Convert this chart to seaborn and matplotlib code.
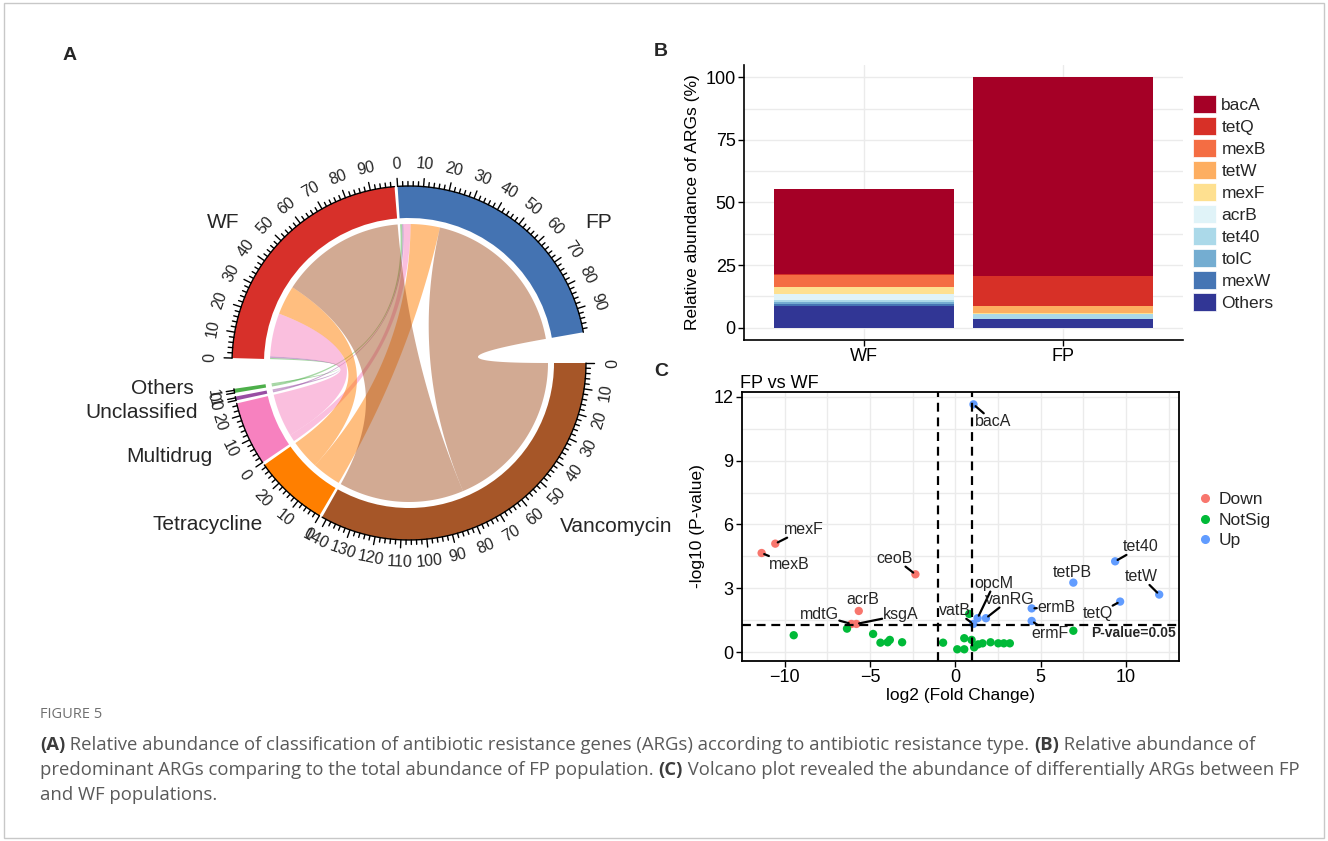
import numpy as np
import pandas as pd
import seaborn as sns
import matplotlib.pyplot as plt
from matplotlib.patches import Wedge, Polygon, Patch, Rectangle
from matplotlib.lines import Line2D

sns.set_theme(style="white")
plt.rcParams['font.family'] = ['Liberation Sans', 'DejaVu Sans']

# ---------------- panel A data (chord diagram) ----------------
types = ['Vancomycin', 'Tetracycline', 'Multidrug', 'Unclassified', 'Others']
samples = ['WF', 'FP']
wf_share = [62.1, 14.5, 21.4, 0.8, 0.6]
fp_share = [79.7, 14.5, 3.5, 0.7, 1.0]
sector_cols = {'Vancomycin': '#A65628', 'Tetracycline': '#FF7F00', 'Multidrug': '#F781BF',
               'Unclassified': '#984EA3', 'Others': '#4DAF4A', 'WF': '#D7302A', 'FP': '#4473B2'}
# name label placement relative to circle centre (px)
name_pos = {'WF': (-186, 140, 'center'), 'FP': (190, 140, 'center'),
            'Others': (-215, -26, 'right'), 'Unclassified': (-211, -49, 'right'),
            'Multidrug': (-197, -94, 'right'), 'Tetracycline': (-146, -162, 'right'),
            'Vancomycin': (151, -163, 'left')}

# ---------------- panel B data ----------------
genes = ['bacA', 'tetQ', 'mexB', 'tetW', 'mexF', 'acrB', 'tet40', 'tolC', 'mexW', 'Others']
wf_abund = [33.8, 0.3, 4.8, 0.3, 2.7, 2.4, 0.7, 0.8, 1.0, 8.5]
fp_abund = [79.2, 12.2, 0.05, 2.9, 0.05, 0.05, 2.1, 0.05, 0.05, 3.35]
gene_cols = ['#A50026', '#D73027', '#F46D43', '#FDAE61', '#FEE090',
             '#E0F3F8', '#ABD9E9', '#74ADD1', '#4575B4', '#313695']

# ---------------- panel C data ----------------
lab_genes = ['mexF', 'mexB', 'ceoB', 'acrB', 'mdtG', 'ksgA', 'bacA', 'tet40', 'tetPB', 'tetW',
             'tetQ', 'ermB', 'ermF', 'opcM', 'vanRG', 'vatB']
lab_x = [-10.55, -11.35, -2.34, -5.66, -6.09, -5.80, 1.06, 9.36, 6.91, 11.94,
         9.65, 4.47, 4.47, 1.30, 1.79, 1.05]
lab_y = [5.10, 4.66, 3.66, 1.94, 1.33, 1.33, 11.64, 4.27, 3.27, 2.71,
         2.38, 2.06, 1.47, 1.60, 1.60, 1.33]
lab_grp = ['Down'] * 6 + ['Up'] * 10
lab_off = [(1.66, 0.67), (1.60, -0.53), (-1.21, 0.75), (0.25, 0.55), (-1.90, 0.42), (2.60, 0.42),
           (1.16, -0.81), (1.52, 0.69), (-0.04, 0.49), (-1.06, 0.84), (-1.33, -0.58),
           (1.46, 0.05), (1.07, -0.58), (0.98, 1.64), (1.41, 0.89), (-1.08, 0.63)]
ns_x = [-9.47, -6.35, -4.82, -4.39, -3.97, -3.84, -3.12, -0.72, 0.11, 0.52, 0.52,
        0.81, 0.95, 1.10, 1.33, 1.59, 2.06, 2.51, 2.84, 3.19, 6.91]
ns_y = [0.80, 1.11, 0.86, 0.45, 0.47, 0.58, 0.47, 0.45, 0.14, 0.66, 0.14,
        1.80, 0.58, 0.23, 0.37, 0.42, 0.47, 0.42, 0.42, 0.42, 1.01]
grp_cols = {'Down': '#F8766D', 'NotSig': '#00BA38', 'Up': '#619CFF'}

W, H = 1328, 841
fig = plt.figure(figsize=(W / 100, H / 100), dpi=100)
fig.patches.append(Rectangle((0.003, 0.004), 0.994, 0.992, transform=fig.transFigure,
                             fill=False, edgecolor='#c8c8c8', lw=1))

# ================= A: chord diagram =================
axA = fig.add_axes([0, 1 - 680 / H, 660 / W, 640 / H])
axA.set_xlim(-409, 251)
axA.set_ylim(-317, 323)
axA.axis('off')
R_OUT, R_IN, R_LINK = 177, 145, 139

totals = {t: wf_share[i] + fp_share[i] for i, t in enumerate(types)}
totals['WF'] = sum(wf_share)
totals['FP'] = sum(fp_share)
order = types + samples
gaps = [1, 1, 1, 1.2, 10, 1, 10]
unit = (360 - sum(gaps)) / sum(totals.values())
start = {}
a = 0.0
for s, g in zip(order, gaps):
    start[s] = a
    a = a - totals[s] * unit - g


def pol(theta, r):
    t = np.radians(theta)
    return np.array([r * np.cos(t), r * np.sin(t)])


def arc(t1, t2, r, n=80):
    ts = np.radians(np.linspace(t1, t2, n))
    return np.column_stack([r * np.cos(ts), r * np.sin(ts)])


def bez(p0, p2, n=80):
    t = np.linspace(0, 1, n)[:, None]
    return (1 - t) ** 2 * p0 + t ** 2 * p2


for s in order:
    t0 = start[s]
    t1 = t0 - totals[s] * unit
    axA.add_patch(Wedge((0, 0), R_OUT, t1, t0, width=R_OUT - R_IN, color=sector_cols[s], lw=0))
    axA.plot(*arc(t0, t1, R_OUT).T, color='black', lw=1)
    major = 10 if totals[s] >= 5 else 1
    minor = 2 if major == 10 else 1
    for v in range(0, int(totals[s]) + 1, minor):
        th = t0 - v * unit
        L = 8 if v % major == 0 else 4.5
        p0, p1 = pol(th, R_OUT), pol(th, R_OUT + L)
        axA.plot([p0[0], p1[0]], [p0[1], p1[1]], color='black', lw=1)
        if v % major == 0:
            rot = th - 90
            rot = (rot + 180) % 360 - 180
            if rot < -90 or rot > 90:
                rot += 180
            px, py = pol(th, R_OUT + 22)
            axA.text(px, py, str(v), fontsize=11.5, rotation=rot, ha='center', va='center',
                     rotation_mode='anchor')
    dx, dy, ha = name_pos[s]
    axA.text(dx, dy, s, fontsize=15, ha=ha, va='center')

# links: positions inside each sector (reverse order of the partner sectors)
pos_cursor = {s: start[s] for s in order}
seg = {}
for smp in samples:
    share = wf_share if smp == 'WF' else fp_share
    for ti in range(len(types) - 1, -1, -1):
        a1 = pos_cursor[smp]
        a2 = a1 - share[ti] * unit
        pos_cursor[smp] = a2
        seg[(smp, types[ti])] = [a1, a2]
for ti, t in enumerate(types):
    for smp in ['FP', 'WF']:
        v = (wf_share if smp == 'WF' else fp_share)[ti]
        b1 = pos_cursor[t]
        b2 = b1 - v * unit
        pos_cursor[t] = b2
        seg[(smp, t)] += [b1, b2]
for ti in range(len(types) - 1, -1, -1):
    t = types[ti]
    for smp in samples:
        a1, a2, b1, b2 = seg[(smp, t)]
        pts = np.vstack([arc(a1, a2, R_LINK), bez(pol(a2, R_LINK), pol(b1, R_LINK)),
                         arc(b1, b2, R_LINK), bez(pol(b2, R_LINK), pol(a1, R_LINK))])
        axA.add_patch(Polygon(pts, closed=True, facecolor=sector_cols[t], alpha=0.5, lw=0))

# ================= B: stacked bars =================
axB = fig.add_axes([744 / W, 1 - 340 / H, 439 / W, 275 / H])
vals = pd.DataFrame({'WF': wf_abund, 'FP': fp_abund}, index=genes)
for i, g in enumerate(genes):
    top = vals.iloc[i:].sum()
    df = pd.DataFrame({'sample': ['WF', 'FP'], 'height': [top['WF'], top['FP']]})
    sns.barplot(data=df, x='sample', y='height', order=['WF', 'FP'], color=gene_cols[i],
                width=0.9, saturation=1, errorbar=None, linewidth=0, ax=axB, zorder=2)
axB.set_xlim(-0.6, 1.6)
axB.set_ylim(-5, 105)
axB.set_yticks([0, 25, 50, 75, 100])
axB.set_yticks([12.5, 37.5, 62.5, 87.5], minor=True)
axB.grid(True, which='both', axis='y', color='#EBEBEB', lw=1, zorder=0)
axB.grid(True, which='major', axis='x', color='#EBEBEB', lw=1, zorder=0)
axB.set_axisbelow(True)
for sp in ['top', 'right']:
    axB.spines[sp].set_visible(False)
for sp in ['left', 'bottom']:
    axB.spines[sp].set_color('black')
    axB.spines[sp].set_linewidth(1.2)
axB.tick_params(axis='both', which='major', length=4, width=1, color='black', labelsize=13,
                labelcolor='black', left=True, bottom=True, pad=2)
axB.tick_params(axis='both', which='minor', length=0)
axB.set_xlabel('')
axB.set_ylabel('Relative abundance of ARGs (%)', fontsize=12.5, color='black', labelpad=4)
handles = [Patch(facecolor=c, edgecolor='white', lw=0.5) for c in gene_cols]
fig.legend(handles, genes, loc='center left', bbox_to_anchor=(1184 / W, 1 - 203 / H),
           frameon=False, fontsize=12.5, handlelength=1.35, handleheight=1.2,
           handletextpad=0.3, labelspacing=0.24, borderpad=0)

# ================= C: volcano =================
axC = fig.add_axes([742 / W, 1 - 661 / H, 437 / W, 269 / H])
vdf = pd.DataFrame({'gene': lab_genes + [''] * len(ns_x),
                    'log2FC': lab_x + ns_x,
                    'logP': lab_y + ns_y,
                    'group': lab_grp + ['NotSig'] * len(ns_x)})
sns.scatterplot(data=vdf, x='log2FC', y='logP', hue='group', hue_order=['Down', 'NotSig', 'Up'],
                palette=grp_cols, s=36, linewidth=0, legend=False, ax=axC, zorder=3)
ls = (0, (4, 2.6))
for xv in [-1, 1]:
    axC.axvline(xv, color='black', lw=1.6, ls=ls, zorder=4)
axC.axhline(-np.log10(0.05), color='black', lw=1.6, ls=ls, zorder=4)
for g, x, y, (dx, dy) in zip(lab_genes, lab_x, lab_y, lab_off):
    # short offsets get no segment, like ggrepel's min.segment.length
    arrow = None
    if abs(dx) > 0.3:
        arrow = dict(arrowstyle='-', color='black', lw=1.6, shrinkA=0, shrinkB=2)
    axC.annotate(g, xy=(x, y), xytext=(x + dx, y + dy), fontsize=11.5, ha='center', va='center',
                 bbox=dict(boxstyle='square,pad=0.05', fc='none', ec='none'),
                 arrowprops=arrow, zorder=5)
axC.text(10.41, 0.89, 'P-value=0.05', fontsize=10, fontweight='bold', ha='center', va='center',
         family=['Liberation Sans Narrow', 'Liberation Sans'], zorder=5)
axC.set_xlim(-12.5, 13.1)
axC.set_ylim(-0.41, 12.22)
axC.set_xticks([-10, -5, 0, 5, 10])
axC.set_xticklabels(['\u221210', '\u22125', '0', '5', '10'])
axC.set_yticks([0, 3, 6, 9, 12])
axC.set_xticks([-7.5, -2.5, 2.5, 7.5, 12.5], minor=True)
axC.set_yticks([1.5, 4.5, 7.5, 10.5], minor=True)
axC.grid(True, which='both', color='#EBEBEB', lw=1, zorder=0)
axC.set_axisbelow(True)
for sp in axC.spines.values():
    sp.set_color('black')
    sp.set_linewidth(1.3)
axC.tick_params(axis='both', which='major', length=4, width=1, color='black', labelsize=13,
                labelcolor='black', left=True, bottom=True, pad=2)
axC.tick_params(axis='both', which='minor', length=0)
axC.set_xlabel('log2 (Fold Change)', fontsize=12.5, color='black', labelpad=1)
axC.set_ylabel('-log10 (P-value)', fontsize=12.5, color='black', labelpad=6)
axC.set_title('FP vs WF', fontsize=13, loc='left', pad=3, color='black', x=-0.005)
vh = [Line2D([], [], marker='o', ls='', color=grp_cols[k], markersize=5.5) for k in grp_cols]
fig.legend(vh, list(grp_cols), loc='center left', bbox_to_anchor=(1191 / W, 1 - 520 / H),
           frameon=False, fontsize=12.5, handlelength=0.6, handletextpad=0.5,
           labelspacing=0.3, borderpad=0)

# panel letters
for letter, x, y in [('A', 70, 55), ('B', 661, 52), ('C', 661, 372)]:
    fig.text(x / W, 1 - y / H, letter, fontsize=14, fontweight='bold', ha='center', va='center')

# ================= caption =================
cap_font = ['Open Sans', 'DejaVu Sans']
fig.text(40 / W, 1 - 714 / H, 'FIGURE 5', fontsize=10.5, color='#707070', family=cap_font,
         va='center')
cap_lines = [
    [('(A)', 'bold'), (' Relative abundance of classification of antibiotic resistance genes (ARGs) '
                       'according to antibiotic resistance type. ', 'normal'),
     ('(B)', 'bold'), (' Relative abundance of', 'normal')],
    [('predominant ARGs comparing to the total abundance of FP population. ', 'normal'),
     ('(C)', 'bold'), (' Volcano plot revealed the abundance of differentially ARGs between FP', 'normal')],
    [('and WF populations.', 'normal')],
]
for li, parts in enumerate(cap_lines):
    y = 1 - (754 + 25 * li) / H
    prev = None
    for txt, wt in parts:
        col = '#3c3c3c' if wt == 'bold' else '#5a5a5a'
        if prev is None:
            prev = fig.text(40 / W, y, txt, fontsize=13.3, fontweight=wt, color=col,
                            family=cap_font, va='bottom')
        else:
            prev = axA.annotate(txt, xy=(1, 0), xycoords=prev, fontsize=13.3, fontweight=wt,
                                color=col, family=cap_font, va='bottom', ha='left',
                                annotation_clip=False)

fig.savefig('out.png', dpi=100)
